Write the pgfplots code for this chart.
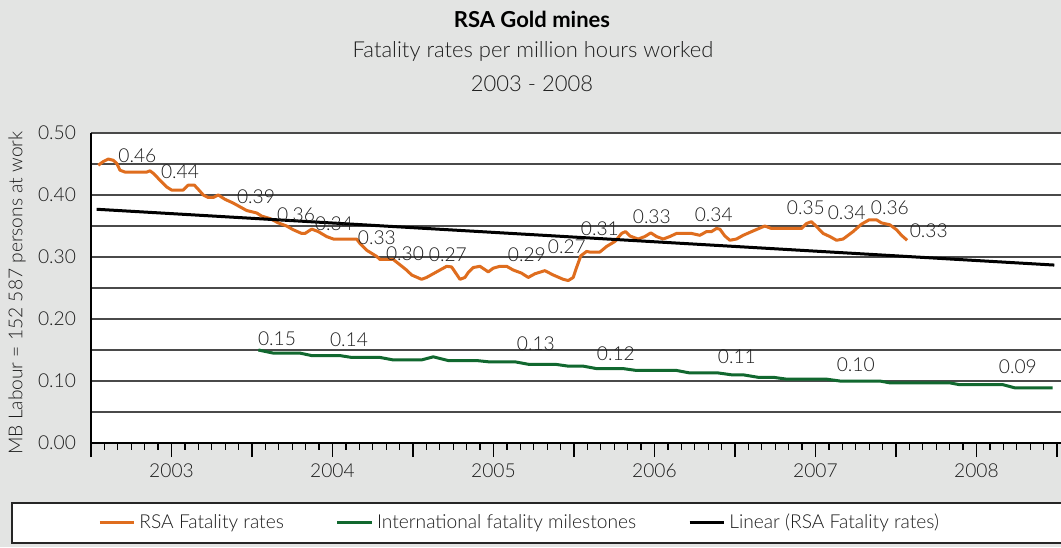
\documentclass[border=0pt]{standalone}
\usepackage{fontspec}
\setmainfont{Lato}[UprightFont={* Light}, BoldFont={* Bold}]
\usepackage{pgfplots}
\pgfplotsset{compat=1.18}
\definecolor{bg}{HTML}{E3E4E3}
\definecolor{rsa}{HTML}{DF6D1E}
\definecolor{intl}{HTML}{11682F}
\definecolor{gridc}{HTML}{4A4A4A}
\definecolor{txt}{HTML}{1E1E1E}
\newcommand{\fs}{\fontsize{9.6}{11}\selectfont}
\newcommand{\ft}{\fontsize{11}{13}\selectfont}
\begin{document}
\begin{tikzpicture}[x=1pt,y=1pt]
\useasboundingbox (0,0) rectangle (530.5,273.5);
\fill[bg] (0,0) rectangle (530.5,273.5);
\filldraw[fill=white, draw=black!85, line width=0.7pt] (6,2) rectangle (535,22);
\node[font=\ft\bfseries, text=black] at (266,264) {RSA Gold mines};
\node[font=\ft, text=txt] at (266.5,248) {Fatality rates per million hours worked};
\node[font=\ft, text=txt] at (266,231.5) {2003 - 2008};
\node[font=\fs, text=txt, rotate=90] at (8.5,127) {MB Labour = 152 587 persons at work};
\begin{axis}[
  at={(45.5pt,52pt)}, anchor=south west,
  scale only axis, width=485pt, height=155pt,
  xmin=0, xmax=72.3, ymin=0, ymax=0.5,
  axis x line*=bottom, axis y line*=left,
  axis line style={line width=1pt, black},
  axis background/.style={fill=white},
  clip=false,
  tick align=outside,
  major tick length=7pt, minor tick length=3.25pt,
  xtick={0,6,...,72},
  xticklabels={,2003,,2004,,2005,,2006,,2007,,2008,},
  minor xtick={0,1,...,72},
  ytick={0,0.1,0.2,0.3,0.4,0.5},
  minor ytick={0,0.05,0.1,0.15,0.2,0.25,0.3,0.35,0.4,0.45,0.5},
  ytick style={draw=none},
  every tick/.style={black, line width=0.6pt},
  ymajorgrids, yminorgrids,
  major grid style={gridc, line width=0.75pt},
  minor grid style={gridc, line width=0.75pt},
  /pgf/number format/assume math mode=true,
  ticklabel style={font=\fs, text=txt},
  yticklabel style={xshift=3pt, /pgf/number format/.cd, fixed, fixed zerofill, precision=2},
  legend columns=3,
  legend style={draw=none, fill=none, at={(0.443,-0.258)}, anchor=center, font=\fs, text=txt,
    /tikz/every even column/.append style={column sep=24pt}},
  legend cell align=left,
]
\addplot[rsa, line width=1.5pt, line join=round] coordinates {
(0.54,0.448)(0.92,0.454)(1.29,0.458)(1.66,0.456)(1.92,0.451)(2.16,0.440)(2.53,0.437)(4.15,0.437)(4.40,0.439)(4.64,0.435)(5.14,0.424)(5.64,0.413)(6.01,0.408)(6.88,0.408)(7.25,0.416)(7.70,0.416)(8.00,0.409)(8.37,0.400)(8.74,0.396)(9.11,0.396)(9.49,0.400)(9.99,0.393)(10.60,0.387)(11.10,0.381)(11.60,0.375)(12.35,0.371)(12.72,0.366)(13.34,0.362)(13.96,0.355)(14.58,0.350)(15.07,0.344)(15.70,0.338)(15.95,0.338)(16.45,0.345)(16.94,0.341)(17.56,0.333)(18.06,0.329)(19.80,0.329)(20.04,0.322)(20.54,0.311)(21.29,0.301)(21.54,0.296)(22.53,0.296)(23.52,0.279)(23.90,0.271)(24.64,0.264)(25.01,0.267)(25.76,0.276)(26.51,0.285)(26.88,0.284)(27.50,0.264)(27.87,0.267)(28.12,0.275)(28.49,0.283)(28.99,0.285)(29.61,0.276)(29.98,0.282)(30.48,0.285)(30.98,0.285)(31.47,0.279)(32.09,0.274)(32.59,0.267)(33.09,0.273)(33.83,0.278)(34.45,0.271)(35.20,0.264)(35.57,0.262)(35.94,0.267)(36.19,0.283)(36.51,0.302)(36.94,0.309)(37.18,0.308)(37.93,0.308)(38.43,0.317)(39.05,0.325)(39.55,0.338)(39.84,0.341)(40.16,0.334)(40.78,0.329)(41.28,0.333)(41.73,0.339)(42.15,0.333)(42.65,0.329)(43.14,0.333)(43.64,0.338)(44.76,0.338)(45.38,0.335)(45.88,0.341)(46.25,0.341)(46.62,0.346)(46.87,0.345)(47.24,0.334)(47.62,0.327)(48.11,0.329)(48.61,0.335)(49.35,0.342)(50.22,0.350)(50.72,0.346)(52.96,0.346)(53.33,0.354)(53.70,0.357)(54.08,0.349)(54.57,0.338)(55.07,0.333)(55.57,0.327)(56.06,0.329)(56.80,0.341)(57.43,0.353)(58.00,0.360)(58.55,0.360)(58.92,0.355)(59.54,0.352)(60.04,0.344)(60.41,0.335)(60.83,0.327)
};
\addlegendentry{RSA Fatality rates}
\addplot[intl, line width=1.5pt, line join=round] coordinates {
(12.47,0.150)(13.58,0.145)(15.57,0.145)(16.45,0.141)(18.55,0.141)(19.43,0.138)(21.54,0.138)(22.53,0.134)(24.64,0.134)(25.51,0.139)(26.62,0.133)(28.74,0.133)(29.61,0.131)(31.59,0.131)(32.59,0.127)(34.58,0.127)(35.57,0.124)(36.68,0.124)(37.68,0.120)(39.66,0.120)(40.66,0.117)(43.64,0.117)(44.63,0.113)(46.74,0.113)(47.74,0.110)(48.61,0.110)(49.72,0.106)(50.84,0.106)(51.84,0.103)(54.82,0.103)(55.81,0.100)(58.79,0.100)(59.54,0.097)(64.01,0.097)(64.75,0.094)(67.98,0.094)(68.85,0.089)(71.68,0.089)
};
\addlegendentry{International fatality milestones}
\addplot[black, line width=1.5pt] coordinates {(0.42,0.377)(71.8,0.287)};
\addlegendentry{Linear (RSA Fatality rates)}
\begin{scope}[every node/.style={font=\fs, text=txt}]
\node at (axis cs:3.46,0.463) {0.46};
\node at (axis cs:6.63,0.437) {0.44};
\node at (axis cs:12.30,0.397) {0.39};
\node at (axis cs:15.28,0.369) {0.36};
\node at (axis cs:18.11,0.353) {0.34};
\node at (axis cs:21.31,0.331) {0.33};
\node at (axis cs:23.40,0.306) {0.30};
\node at (axis cs:26.60,0.303) {0.27};
\node at (axis cs:32.49,0.303) {0.29};
\node at (axis cs:35.47,0.316) {0.27};
\node at (axis cs:37.93,0.345) {0.31};
\node at (axis cs:41.80,0.365) {0.33};
\node at (axis cs:46.42,0.368) {0.34};
\node at (axis cs:53.28,0.379) {0.35};
\node at (axis cs:56.33,0.371) {0.34};
\node at (axis cs:59.54,0.379) {0.36};
\node at (axis cs:62.44,0.342) {0.33};
\node at (axis cs:13.86,0.168) {0.15};
\node at (axis cs:19.23,0.166) {0.14};
\node at (axis cs:33.16,0.160) {0.13};
\node at (axis cs:39.12,0.144) {0.12};
\node at (axis cs:48.14,0.139) {0.11};
\node at (axis cs:57.00,0.127) {0.10};
\node at (axis cs:69.08,0.123) {0.09};
\end{scope}
\end{axis}
\end{tikzpicture}
\end{document}
